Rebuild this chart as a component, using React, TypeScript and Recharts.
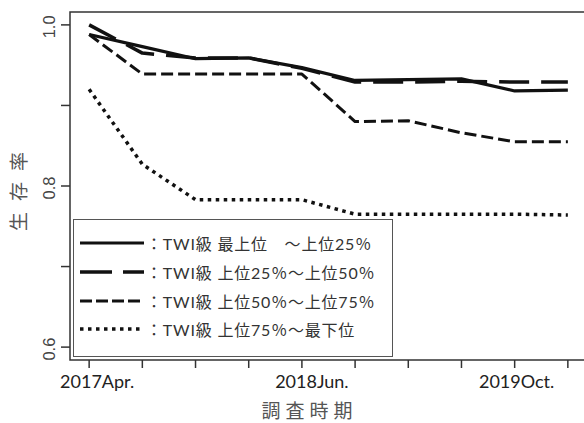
import { LineChart, Line, XAxis, YAxis, ReferenceArea, Label } from "recharts";

// survey rounds (index on the x axis) and the labels printed under some ticks
const xTicks = [0, 1, 2, 3, 4, 5, 6, 7, 8, 9];
const xTickLabels = ["2017Apr.", "", "", "", "2018Jun.", "", "", "", "2019Oct.", ""];

const yTicks = [0.6, 0.7, 0.8, 0.9, 1.0];
const yTickLabels = ["0.6", "", "0.8", "", "1.0"];

// survival rate per TWI class
const twiTop = [0.988, 0.973, 0.958, 0.959, 0.947, 0.931, 0.932, 0.933, 0.918, 0.919];
const twi25to50 = [1.0, 0.965, 0.959, 0.959, 0.946, 0.929, 0.929, 0.93, 0.929, 0.929];
const twi50to75 = [0.988, 0.939, 0.939, 0.939, 0.939, 0.88, 0.881, 0.866, 0.855, 0.855];
const twi75toBottom = [0.92, 0.827, 0.783, 0.783, 0.783, 0.765, 0.765, 0.765, 0.765, 0.764];

const seriesNames = [
  "：TWI級 最上位　～上位25％",
  "：TWI級 上位25％～上位50％",
  "：TWI級 上位50％～上位75％",
  "：TWI級 上位75％～最下位",
];

const X_DOMAIN: [number, number] = [-0.36, 9.36];
const Y_DOMAIN: [number, number] = [0.584, 1.016];

const data = xTicks.map((x, i) => ({
  x,
  s0: twiTop[i],
  s1: twi25to50[i],
  s2: twi50to75[i],
  s3: twi75toBottom[i],
}));

const lineStyles = [
  { key: "s0", dash: undefined, width: 3.2, legendDash: undefined },
  { key: "s1", dash: "30 12", width: 3.5, legendDash: "32 11" },
  { key: "s2", dash: "12 5", width: 3, legendDash: "12 4" },
  { key: "s3", dash: "3.5 4.5", width: 3.5, legendDash: "3.5 4.5" },
];

const CJK = "Lato, 'Noto Sans CJK JP', sans-serif";

// small nudges, the labels in the original sit a bit right of their ticks
const labelShift: Record<number, number> = { 0: 8, 4: 10, 8: 2 };

function XTick({ x, y, payload }: any) {
  const label = xTickLabels[payload.value];
  if (!label) return null;
  return (
    <text
      x={x + (labelShift[payload.value] || 0)}
      y={y + 18}
      textAnchor="middle"
      fontFamily={CJK}
      fontSize={18}
      fill="#222"
    >
      {label}
    </text>
  );
}

function YTick({ x, y, payload }: any) {
  const idx = yTicks.findIndex((t) => Math.abs(t - payload.value) < 1e-6);
  const label = yTickLabels[idx];
  if (!label) return null;
  return (
    <text
      x={x - 4}
      y={y + 2}
      transform={`rotate(-90, ${x - 4}, ${y + 2})`}
      textAnchor="middle"
      fontFamily="'Liberation Sans', Arial, sans-serif"
      fontSize={16.5}
      fill="#444"
    >
      {label}
    </text>
  );
}

function LegendBox() {
  return (
    <div
      style={{
        position: "absolute",
        left: 73,
        top: 219,
        width: 320,
        height: 138,
        boxSizing: "border-box",
        border: "1.5px solid #555",
        background: "#fff",
        paddingTop: 9,
      }}
    >
      {seriesNames.map((name, i) => (
        <div key={name} style={{ display: "flex", alignItems: "center", height: 28.7 }}>
          <svg width={66} height={10} style={{ marginLeft: 6, flex: "none" }}>
            <line
              x1={0}
              y1={5}
              x2={64}
              y2={5}
              stroke="#111"
              strokeWidth={lineStyles[i].width}
              strokeDasharray={lineStyles[i].legendDash}
            />
          </svg>
          <span
            style={{
              fontFamily: CJK,
              fontSize: 16,
              letterSpacing: 0.8,
              color: "#333",
              whiteSpace: "pre",
            }}
          >
            {name}
          </span>
        </div>
      ))}
    </div>
  );
}

export default function App() {
  return (
    <div
      style={{
        position: "fixed",
        left: 0,
        top: 0,
        width: 584,
        height: 423,
        overflow: "hidden",
        background: "#fff",
      }}
    >
      <LineChart
        width={600}
        height={423}
        data={data}
        margin={{ top: 12, right: 13, left: 10, bottom: 33 }}
      >
        <XAxis
          dataKey="x"
          type="number"
          domain={X_DOMAIN}
          ticks={xTicks}
          interval={0}
          axisLine={false}
          tickLine={{ stroke: "#333", strokeWidth: 1.5 }}
          tickSize={8}
          height={30}
          tick={<XTick />}
          allowDataOverflow
        >
          <Label
            content={({ viewBox }: any) => (
              <text
                x={viewBox.x + viewBox.width / 2 - 19}
                y={409}
                textAnchor="middle"
                dominantBaseline="central"
                fontFamily="'Noto Sans CJK JP', sans-serif"
                fontSize={19}
                letterSpacing={5}
                fill="#555"
              >
                調査時期
              </text>
            )}
          />
        </XAxis>
        <YAxis
          type="number"
          domain={Y_DOMAIN}
          ticks={yTicks}
          interval={0}
          width={60}
          axisLine={false}
          tickLine={{ stroke: "#333", strokeWidth: 1.5 }}
          tickSize={9}
          tickMargin={2}
          tick={<YTick />}
          allowDataOverflow
        >
          <Label
            content={({ viewBox }: any) => {
              const cy = viewBox.y + viewBox.height / 2;
              return (
                <text
                  x={17}
                  y={cy}
                  transform={`rotate(-90, 17, ${cy})`}
                  textAnchor="middle"
                  dominantBaseline="central"
                  fontFamily="'Noto Sans CJK JP', sans-serif"
                  fontSize={19}
                  letterSpacing={11}
                  fill="#555"
                >
                  生存率
                </text>
              );
            }}
          />
        </YAxis>
        <ReferenceArea
          x1={X_DOMAIN[0]}
          x2={X_DOMAIN[1]}
          y1={Y_DOMAIN[0]}
          y2={Y_DOMAIN[1]}
          fill="none"
          fillOpacity={0}
          stroke="#333"
          strokeWidth={1.5}
          ifOverflow="visible"
        />
        {lineStyles.map((s) => (
          <Line
            key={s.key}
            dataKey={s.key}
            type="linear"
            stroke="#111"
            strokeWidth={s.width}
            strokeDasharray={s.dash}
            strokeLinejoin="round"
            dot={false}
            activeDot={false}
            isAnimationActive={false}
          />
        ))}
      </LineChart>
      <LegendBox />
    </div>
  );
}
